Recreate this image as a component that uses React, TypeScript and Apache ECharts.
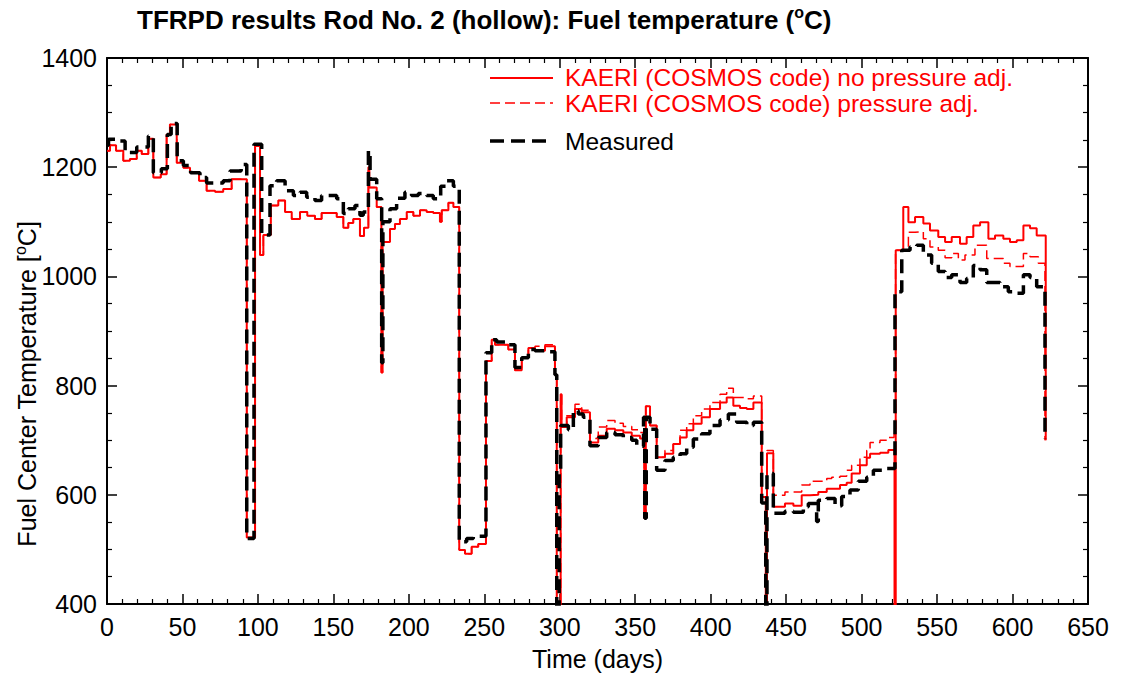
import React, { useEffect, useRef } from "react";
import * as echarts from "echarts";

const xTickValues = [0, 50, 100, 150, 200, 250, 300, 350, 400, 450, 500, 550, 600, 650];
const yTickValues = [400, 600, 800, 1000, 1200, 1400];

const kaeriNoAdj: [number, number][] = [
  [0, 1230], [2, 1240], [6, 1230], [10.8, 1212], [15.2, 1215], [19.7, 1230], [23, 1224], [27.4, 1252],
  [30.7, 1181], [35.6, 1187], [39.5, 1260], [41.7, 1278], [46.2, 1208], [50.6, 1199], [55, 1190], [61, 1175],
  [66, 1157], [71.6, 1155], [77, 1160], [82.6, 1178], [92.6, 522], [98.1, 1239], [101.4, 1039], [103.6, 1076],
  [108.5, 1130], [113.5, 1139], [118, 1118], [122.4, 1105], [127.9, 1118], [132.7, 1111], [137.8, 1105],
  [142.2, 1116], [152.2, 1109], [156.6, 1089], [159.9, 1098], [163.2, 1105], [167.6, 1074], [170.3, 1089],
  [173.2, 1200], [173.8, 1163], [178.7, 1127], [181.8, 824], [182.6, 1063], [187.5, 1087], [190.8, 1096],
  [194.1, 1105], [198.6, 1118], [203, 1111], [207.4, 1121], [211.8, 1118], [216.2, 1116], [220.6, 1100],
  [221.8, 1121], [226.2, 1135], [229.5, 1127], [233.4, 499], [237.2, 492], [241.6, 505], [246, 510],
  [251.1, 845], [254.9, 884], [257.1, 875], [265.9, 866], [270.3, 828], [274.8, 851], [279.2, 869],
  [283.6, 864], [290.2, 872], [296.8, 820], [298, 380], [300.6, 784], [301.2, 724], [304.6, 742],
  [310.1, 757], [314.5, 751], [320, 696], [325.5, 708], [331.1, 721], [336.6, 718], [342.1, 714],
  [347.7, 708], [353.2, 703], [356, 557], [357, 762], [359.8, 727], [364.2, 669], [369.7, 675], [375.2, 693],
  [379.7, 705], [384.1, 718], [388.5, 730], [394, 742], [399.5, 757], [406.2, 769], [410.6, 778], [415, 763],
  [419.4, 759], [423.9, 757], [428.3, 769], [433.8, 596], [436.5, 380], [437.3, 676], [441.5, 578],
  [449.2, 584], [454.8, 580], [460.3, 599], [465.8, 600], [471.3, 605], [476.9, 611], [485.7, 618],
  [490.1, 622], [493.4, 639], [498.9, 654], [503.4, 668], [505.6, 675], [512.2, 677], [517.7, 682],
  [521.8, 380], [522.6, 1048], [527.6, 1127], [531, 1099], [535.4, 1109], [540.9, 1097], [545.3, 1084],
  [550.8, 1072], [555.3, 1063], [559.7, 1072], [565.2, 1060], [569.6, 1072], [574, 1093], [578.5, 1099],
  [584, 1069], [588.4, 1075], [593.9, 1069], [598.3, 1063], [602.8, 1066], [607.2, 1093], [611.6, 1088],
  [616, 1075], [622, 700],
];

const kaeriAdj: [number, number][] = [
  [0, 1230], [2, 1240], [6, 1230], [10.8, 1212], [15.2, 1215], [19.7, 1230], [23, 1224], [27.4, 1252],
  [30.7, 1181], [35.6, 1187], [39.5, 1260], [41.7, 1278], [46.2, 1208], [50.6, 1199], [55, 1190], [61, 1175],
  [66, 1157], [71.6, 1155], [77, 1160], [82.6, 1178], [92.6, 522], [98.1, 1239], [101.4, 1039], [103.6, 1076],
  [108.5, 1130], [113.5, 1139], [118, 1118], [122.4, 1105], [127.9, 1118], [132.7, 1111], [137.8, 1105],
  [142.2, 1116], [152.2, 1109], [156.6, 1089], [159.9, 1098], [163.2, 1105], [167.6, 1074], [170.3, 1089],
  [173.2, 1200], [173.8, 1163], [178.7, 1127], [181.8, 824], [182.6, 1063], [187.5, 1087], [190.8, 1096],
  [194.1, 1105], [198.6, 1118], [203, 1111], [207.4, 1121], [211.8, 1118], [216.2, 1116], [220.6, 1100],
  [221.8, 1121], [226.2, 1135], [229.5, 1127], [233.4, 499], [237.2, 492], [241.6, 505], [246, 510],
  [251.1, 845], [254.9, 884], [257.1, 875], [265.9, 866], [270.3, 828], [274.8, 851], [279.2, 869],
  [283.6, 872], [290.2, 875], [296.8, 820], [298, 380], [300.6, 784], [301.2, 727], [304.6, 745],
  [310.1, 766], [314.5, 755], [320, 703], [325.5, 724], [331.1, 736], [336.6, 731], [342.1, 725],
  [347.7, 719], [353.2, 714], [356, 557], [357, 762], [359.8, 727], [364.2, 669], [369.7, 681], [375.2, 693],
  [379.7, 718], [384.1, 730], [388.5, 745], [394, 757], [399.5, 769], [406.2, 784], [410.6, 795], [415, 778],
  [419.4, 778], [423.9, 776], [428.3, 781], [433.8, 596], [436.5, 380], [437.3, 681], [441.5, 599],
  [449.2, 605], [454.8, 605], [460.3, 618], [465.8, 625], [471.3, 625], [476.9, 630], [480.2, 632],
  [485.7, 634], [490.1, 645], [493.4, 654], [498.9, 669], [503.4, 681], [505.6, 696], [512.2, 700],
  [517.7, 705], [521.5, 711], [522.5, 1048], [531, 1081], [535.4, 1082], [540.9, 1069], [545.3, 1054],
  [550.8, 1048], [555.3, 1034], [559.7, 1042], [564.1, 1030], [568.5, 1039], [575.1, 1057], [582.9, 1033],
  [593.9, 1024], [598.3, 1018], [607.2, 1042], [611.6, 1036], [617.1, 1024], [621.5, 700],
];

const measured: [number, number][] = [
  [0, 1240], [1, 1251], [6.5, 1248], [12, 1227], [19.7, 1237], [27.4, 1257], [30.7, 1190], [36, 1197],
  [40, 1260], [42.5, 1280], [46.5, 1212], [50.6, 1203], [55.4, 1190], [61.6, 1181], [66, 1171], [77, 1175],
  [81.5, 1193], [88.9, 1205], [92.6, 520], [97.4, 1242], [102.5, 1076], [108, 1166], [112.4, 1175],
  [118, 1157], [123.5, 1148], [127.9, 1154], [132.3, 1145], [137.8, 1139], [142.2, 1148], [152.2, 1142],
  [156.6, 1115], [159.9, 1124], [164.3, 1130], [167.6, 1112], [169.8, 1118], [173.2, 1230], [174.3, 1178],
  [178.7, 1142], [182, 842], [182.8, 1100], [187.5, 1124], [191.9, 1143], [197.4, 1154], [201.8, 1148],
  [206.3, 1152], [211.8, 1148], [216.2, 1142], [221.1, 1165], [225.1, 1175], [229.5, 1165], [233.4, 514],
  [238.3, 520], [242.7, 524], [251.1, 860], [254.9, 884], [258.2, 880], [265.9, 875], [270.3, 833],
  [274.8, 851], [279.2, 866], [283.6, 864], [290.2, 862], [296.8, 820], [298, 380], [299.6, 639],
  [300.6, 727], [305.7, 719], [309, 754], [312.3, 748], [315.6, 742], [320, 690], [325.5, 705],
  [331.1, 714], [336.6, 710], [342.1, 705], [347.7, 700], [351, 689], [355.5, 742], [356.3, 557],
  [357.3, 742], [359.8, 720], [364.2, 645], [369.7, 663], [375.2, 669], [379.7, 675], [384.1, 687],
  [388.5, 702], [394, 712], [399.5, 727], [406.2, 737], [411.7, 748], [417.2, 733], [423.9, 727],
  [428.3, 733], [433.8, 585], [436.5, 380], [437.3, 639], [441.5, 566], [449.2, 570], [454.8, 568],
  [461.4, 578], [464.7, 584], [470.2, 551], [471.3, 590], [476.9, 593], [482.4, 580], [486.8, 597],
  [492.3, 609], [497.8, 625], [503.4, 632], [507.8, 645], [514.4, 648], [522.1, 972], [526.6, 1048],
  [532.1, 1054], [536.5, 1057], [540.9, 1039], [546.4, 1024], [550.8, 1009], [555.3, 998], [559.7, 1003],
  [565.2, 989], [569.6, 996], [574, 1020], [578.5, 1012], [582.9, 989], [591.7, 981], [597.2, 972],
  [601.7, 969], [607.2, 1003], [611.6, 998], [616, 981], [621.5, 702],
];

const legendNames = [
  "KAERI (COSMOS code) no pressure adj.",
  "KAERI (COSMOS code) pressure adj.",
  "Measured",
];

const FONT = "'Liberation Sans', Arial, Helvetica, sans-serif";

export default function App() {
  const ref = useRef<HTMLDivElement>(null);
  useEffect(() => {
    if (!ref.current) return;
    const chart = echarts.init(ref.current, null, { renderer: "svg", width: 1132, height: 676 });
    const axisCommon = {
      type: "value" as const,
      axisLine: { show: true, onZero: false, lineStyle: { color: "#000", width: 2 } },
      axisTick: { show: true, inside: true, length: 10, lineStyle: { color: "#000", width: 1.5 } },
      minorTick: { show: true, length: 5, lineStyle: { color: "#000", width: 1.2 } },
      splitLine: { show: false },
    };
    chart.setOption({
      animation: false,
      backgroundColor: "#fff",
      grid: { left: 107, top: 58, width: 981, height: 550, containLabel: false },
      xAxis: [
        {
          ...axisCommon,
          position: "bottom",
          min: xTickValues[0],
          max: xTickValues[xTickValues.length - 1],
          interval: 50,
          minorTick: { ...axisCommon.minorTick, splitNumber: 5 },
          axisLabel: { color: "#000", fontSize: 25, fontFamily: FONT, margin: 10, formatter: (v: number) => String(v) },
          name: "Time (days)",
          nameLocation: "middle",
          nameGap: 42,
          nameTextStyle: { color: "#000", fontSize: 25, fontFamily: FONT },
        },
        {
          ...axisCommon,
          position: "top",
          min: xTickValues[0],
          max: xTickValues[xTickValues.length - 1],
          interval: 50,
          minorTick: { ...axisCommon.minorTick, splitNumber: 5 },
          axisLabel: { show: false },
        },
      ],
      yAxis: [
        {
          ...axisCommon,
          position: "left",
          min: yTickValues[0],
          max: yTickValues[yTickValues.length - 1],
          interval: 200,
          minorTick: { ...axisCommon.minorTick, splitNumber: 4 },
          axisLabel: { color: "#000", fontSize: 25, fontFamily: FONT, margin: 10, formatter: (v: number) => String(v) },
        },
        {
          ...axisCommon,
          position: "right",
          min: yTickValues[0],
          max: yTickValues[yTickValues.length - 1],
          interval: 200,
          minorTick: { ...axisCommon.minorTick, splitNumber: 4 },
          axisLabel: { show: false },
        },
      ],
      series: [
        {
          name: legendNames[1],
          type: "line",
          step: "end",
          data: kaeriAdj,
          showSymbol: false,
          clip: true,
          lineStyle: { color: "#ff0000", width: 1.5, type: [10, 5] },
          z: 2,
        },
        {
          name: legendNames[0],
          type: "line",
          step: "end",
          data: kaeriNoAdj,
          showSymbol: false,
          clip: true,
          lineStyle: { color: "#ff0000", width: 2 },
          z: 3,
        },
        {
          name: legendNames[2],
          type: "line",
          step: "end",
          data: measured,
          showSymbol: false,
          clip: true,
          lineStyle: { color: "#000", width: 3.5, type: [14, 7] },
          z: 4,
        },
      ],
      graphic: [
        {
          type: "text",
          left: 137,
          top: 4,
          style: {
            text: "TFRPD results Rod No. 2 (hollow): Fuel temperature ({sup|o}C)",
            fontSize: 26,
            fontWeight: "bold",
            fontFamily: FONT,
            fill: "#000",
            lineHeight: 32,
            rich: { sup: { fontSize: 16, fontWeight: "bold", fontFamily: FONT, lineHeight: 10, verticalAlign: "top", fill: "#000" } },
          },
        },
        {
          type: "text",
          x: 27,
          y: 384,
          rotation: Math.PI / 2,
          style: {
            text: "Fuel Center Temperature [{sup|o}C]",
            fontSize: 25,
            fontFamily: FONT,
            fill: "#000",
            align: "center",
            verticalAlign: "middle",
            lineHeight: 30,
            rich: { sup: { fontSize: 16, fontFamily: FONT, lineHeight: 10, verticalAlign: "top", fill: "#000" } },
          },
        },
        { type: "line", shape: { x1: 490, y1: 78, x2: 553, y2: 78 }, style: { stroke: "#ff0000", lineWidth: 2 } },
        { type: "line", shape: { x1: 490, y1: 103, x2: 553, y2: 103 }, style: { stroke: "#ff0000", lineWidth: 1.5, lineDash: [10, 5] } },
        { type: "line", shape: { x1: 490, y1: 141, x2: 553, y2: 141 }, style: { stroke: "#000", lineWidth: 3.5, lineDash: [14, 7] } },
        { type: "text", x: 565, y: 77, style: { text: legendNames[0], fontSize: 24.5, lineHeight: 24, fontFamily: FONT, fill: "#ff0000", verticalAlign: "middle" } },
        { type: "text", x: 565, y: 103, style: { text: legendNames[1], fontSize: 24.5, lineHeight: 24, fontFamily: FONT, fill: "#ff0000", verticalAlign: "middle" } },
        { type: "text", x: 565, y: 141, style: { text: legendNames[2], fontSize: 24.5, lineHeight: 24, fontFamily: FONT, fill: "#000", verticalAlign: "middle" } },
      ],
    });
    return () => chart.dispose();
  }, []);
  return <div ref={ref} style={{ position: "fixed", left: 0, top: 0, width: 1132, height: 676 }} />;
}
